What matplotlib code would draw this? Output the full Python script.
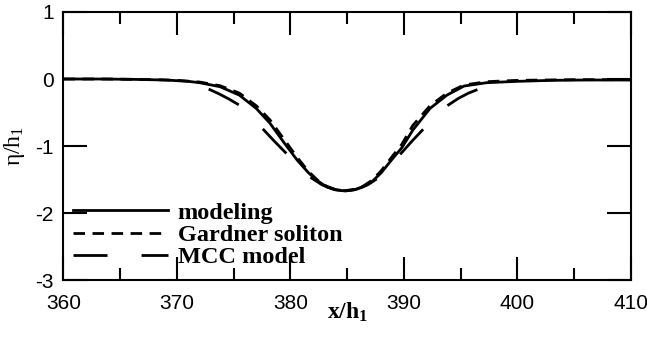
import matplotlib
matplotlib.use('Agg')
import matplotlib.pyplot as plt
from matplotlib.ticker import MultipleLocator

# Données
x_model = [360, 363, 366, 369, 371, 372.0, 373.8, 375.5, 377.0, 378.2, 379.4, 380.6, 381.6,
           382.4, 383.2, 384.0, 384.8, 385.6, 386.4, 387.2, 388.0, 389.0, 389.8, 390.8, 392.3,
           393.8, 395.3, 397.3, 400, 403, 406, 410]
y_model = [0.0, 0.0, -0.005, -0.015, -0.035, -0.055, -0.115, -0.24, -0.44, -0.66, -0.94, -1.21,
           -1.40, -1.52, -1.61, -1.655, -1.67, -1.655, -1.61, -1.53, -1.40, -1.19, -1.03, -0.76,
           -0.44, -0.24, -0.105, -0.055, -0.035, -0.02, -0.015, -0.015]

x_gardner = [360, 364, 368, 370, 372, 373.8, 375.5, 377.0, 378.2, 379.4, 380.6, 381.6, 382.4,
             383.2, 384.0, 384.8, 385.6, 386.4, 387.2, 388.0, 389.0, 389.8, 390.8, 392.3, 393.8,
             395.3, 397.3, 400, 405, 410]
y_gardner = [0.0, 0.0, -0.01, -0.02, -0.045, -0.10, -0.21, -0.40, -0.61, -0.89, -1.17, -1.38,
             -1.51, -1.60, -1.65, -1.665, -1.65, -1.60, -1.51, -1.37, -1.15, -0.98, -0.69, -0.40,
             -0.21, -0.09, -0.04, -0.02, -0.01, -0.01]

x_mcc = [372.8, 373.7, 374.6, 375.5, 376.5, 377.6, 378.6, 379.7, 380.8, 381.8, 382.8, 383.8,
         384.8, 385.8, 386.8, 387.8, 388.8, 389.7, 390.7, 391.7, 392.8, 393.9, 394.8, 395.7, 396.6]
y_mcc = [-0.15, -0.22, -0.30, -0.39, -0.55, -0.75, -0.93, -1.12, -1.32, -1.47, -1.58, -1.645,
         -1.67, -1.645, -1.58, -1.47, -1.30, -1.12, -0.93, -0.75, -0.55, -0.39, -0.29, -0.21, -0.15]

plt.rcParams['font.family'] = ['Liberation Sans', 'DejaVu Sans']
plt.rcParams['axes.unicode_minus'] = False
plt.rcParams['lines.scale_dashes'] = False
plt.rcParams['mathtext.fontset'] = 'custom'
plt.rcParams['mathtext.rm'] = 'Liberation Serif'
plt.rcParams['mathtext.it'] = 'Liberation Serif'
plt.rcParams['mathtext.bf'] = 'Liberation Serif:bold'

fig = plt.figure(figsize=(6.47, 3.42), dpi=100)
ax = fig.add_axes([0.098, 0.181, 0.877, 0.784])

# tirets longs : un écart raccourci au fond du creux pour caler les tirets de droite
mcc_dash = (0, (24.5, 24.5, 24.5, 24.5, 24.5, 2.9, 24.5, 24.5, 24.5, 24.5, 24.5, 24.5))

ax.plot(x_model, y_model, color='black', lw=2.0, label='modeling')
ax.plot(x_gardner, y_gardner, color='black', lw=2.0, linestyle=(0, (8.3, 5.4)),
        label='Gardner soliton')
ax.plot(x_mcc, y_mcc, color='black', lw=2.0, linestyle=mcc_dash, label='MCC model')

ax.set_xlim(360, 410)
ax.set_ylim(-3, 1)
ax.xaxis.set_major_locator(MultipleLocator(10))
ax.xaxis.set_minor_locator(MultipleLocator(5))
ax.yaxis.set_major_locator(MultipleLocator(1))
ax.tick_params(which='both', direction='in', top=True, right=True, width=1.5, labelsize=15)
ax.tick_params(axis='x', which='major', length=16.5, pad=10)
ax.tick_params(axis='x', which='minor', length=8.6)
ax.tick_params(axis='y', which='major', length=17, pad=7)
for s in ax.spines.values():
    s.set_linewidth(1.5)

ax.set_xlabel(r'$\mathbf{x/h_1}$', fontsize=17)
ax.xaxis.set_label_coords(0.5, -0.075)
ax.set_ylabel(r'$\mathrm{\eta/h_1}$', fontsize=17)
ax.yaxis.set_label_coords(-0.065, 0.5)

ax.legend(loc='lower left', bbox_to_anchor=(0.017, 0.045), frameon=False,
          prop={'family': 'Liberation Serif', 'weight': 'bold', 'size': 17.5},
          handlelength=3.9, handletextpad=0.4, labelspacing=0.0, borderpad=0,
          borderaxespad=0)

plt.savefig('out.png', dpi=100)
